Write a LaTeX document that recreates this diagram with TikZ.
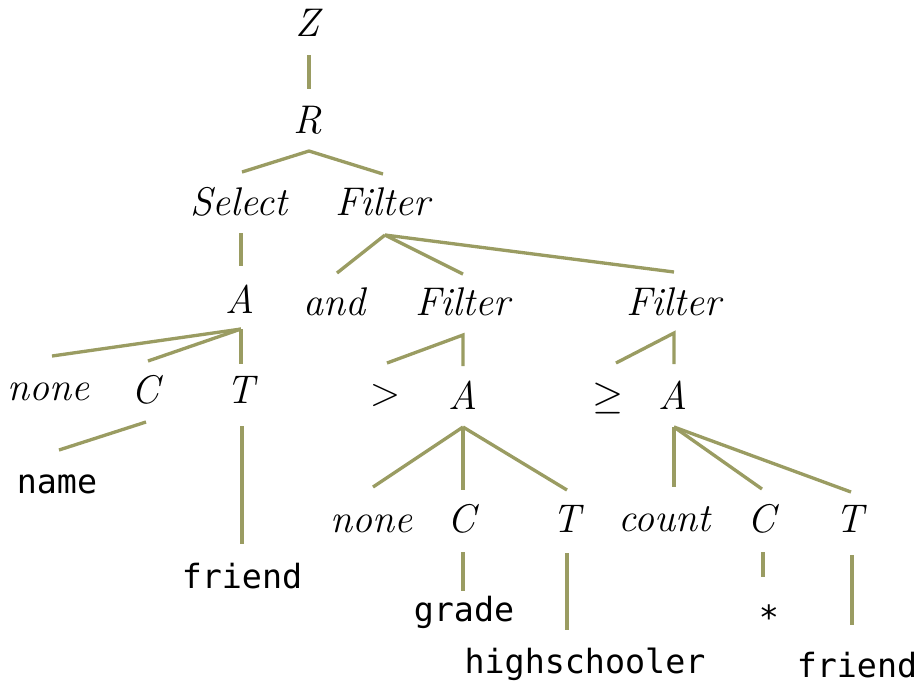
\documentclass[tikz,border=0pt]{standalone}
\usepackage{fontspec}
\setmonofont{DejaVu Sans Mono}
\usetikzlibrary{calc}
\definecolor{treeline}{RGB}{154,156,98}
\tikzset{
  lab/.style={anchor=base, inner sep=0pt, font=\fontsize{12}{14}\selectfont\itshape},
  sym/.style={anchor=base, inner sep=0pt, font=\fontsize{12}{14}\selectfont},
  code/.style={anchor=base, inner sep=0pt, font=\fontsize{10}{12}\selectfont\ttfamily},
  branch/.style={draw=treeline, line width=1pt}
}
\begin{document}
\begin{tikzpicture}[x=0.3pt, y=-0.3pt]
\useasboundingbox (0,0) rectangle (916,684);
% nodes
\node[lab] (Z) at (308,36) {Z};
\node[lab] (R) at (308,133) {R};
\node[lab] (Sel) at (239,215) {Select};
\node[lab] (F1) at (383,215) {Filter};
\node[lab] (A1) at (240,313) {A};
\node[lab] (and) at (335,315) {and};
\node[lab] (F2) at (463,315) {Filter};
\node[lab] (F3) at (674,315) {Filter};
\node[lab] (none1) at (49,400) {none};
\node[lab] (C1) at (146,403) {C};
\node[lab] (T1) at (241,403) {T};
\node[sym] (gt) at (385,405) {$>$};
\node[lab] (A2) at (463,409) {A};
\node[sym] (geq) at (608,408) {$\geq$};
\node[lab] (A3) at (673,409) {A};
\node[lab] (none2) at (371,532) {none};
\node[lab] (C2) at (462,532) {C};
\node[lab] (T2) at (567,532) {T};
\node[lab] (count) at (664,531) {count};
\node[lab] (C3) at (762,532) {C};
\node[lab] (T3) at (850,532) {T};
\node[code] (name) at (57,493) {name};
\node[code] (fr1) at (242,588) {friend};
\node[code] (grade) at (464,621) {grade};
\node[code] (star) at (769,629) {*};
\node[code] (hs) at (585,673) {highschooler};
\node[code] (fr2) at (857,677) {friend};
% connectors
\draw[branch] ($(Z.base)+(1,19)$) -- ($(R.base)+(1,-44)$);
\draw[branch] ($(Sel.base)+(3,-43)$) -- ($(R.base)+(1,18)$) -- ($(F1.base)+(0,-41)$);
\draw[branch] ($(Sel.base)+(2,18)$) -- ($(A1.base)+(1,-47)$);
\draw[branch] ($(F1.base)+(2,20)$) -- ($(and.base)+(2,-42)$);
\draw[branch] ($(F1.base)+(2,20)$) -- ($(F2.base)+(0,-41)$);
\draw[branch] ($(F1.base)+(2,20)$) -- ($(F3.base)+(0,-43)$);
\draw[branch] ($(A1.base)+(1,16)$) -- ($(none1.base)+(3,-44)$);
\draw[branch] ($(A1.base)+(1,16)$) -- ($(C1.base)+(2,-42)$);
\draw[branch] ($(A1.base)+(1,16)$) -- ($(T1.base)+(0,-39)$);
\draw[branch] ($(C1.base)+(0,19)$) -- ($(name.base)+(2,-43)$);
\draw[branch] ($(T1.base)+(1,23)$) -- ($(fr1.base)+(0,-44)$);
\draw[branch] ($(gt.base)+(2,-42)$) -- ($(F2.base)+(0,20)$) -- ($(A2.base)+(0,-43)$);
\draw[branch] ($(geq.base)+(8,-45)$) -- ($(F3.base)+(0,18)$) -- ($(A3.base)+(1,-45)$);
\draw[branch] ($(A2.base)+(0,18)$) -- ($(none2.base)+(2,-45)$);
\draw[branch] ($(A2.base)+(0,18)$) -- ($(C2.base)+(1,-42)$);
\draw[branch] ($(A2.base)+(0,18)$) -- ($(T2.base)+(0,-42)$);
\draw[branch] ($(A3.base)+(1,18)$) -- ($(count.base)+(10,-44)$);
\draw[branch] ($(A3.base)+(1,18)$) -- ($(C3.base)+(0,-43)$);
\draw[branch] ($(A3.base)+(1,18)$) -- ($(T3.base)+(1,-40)$);
\draw[branch] ($(C2.base)+(1,20)$) -- ($(grade.base)+(-1,-30)$);
\draw[branch] ($(T2.base)+(0,21)$) -- ($(hs.base)+(-18,-43)$);
\draw[branch] ($(C3.base)+(1,20)$) -- ($(star.base)+(-6,-52)$);
\draw[branch] ($(T3.base)+(2,23)$) -- ($(fr2.base)+(-5,-52)$);
\end{tikzpicture}
\end{document}
